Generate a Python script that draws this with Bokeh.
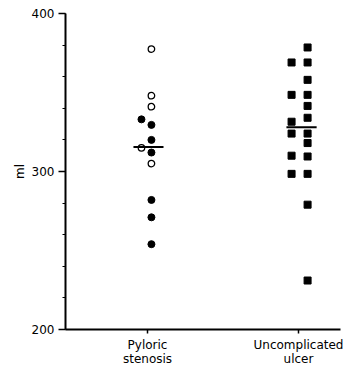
from bokeh.plotting import figure
from bokeh.models import Range1d, FixedTicker, SingleIntervalTicker, ColumnDataSource
from bokeh.embed import file_html
from bokeh.resources import INLINE

# ---- data (ml) ----
categories = ["Pyloric\nstenosis", "Uncomplicated\nulcer"]
cat_pos = [1, 2]

# Pyloric stenosis: filled and open circles
pyl_filled = [333, 329.5, 320, 312, 282, 271, 254]
pyl_filled_col = ["side", "main", "main", "main", "main", "main", "main"]
pyl_open = [377.5, 348, 341, 315, 305]
pyl_open_col = ["main", "main", "main", "side", "main"]
pyl_mean = 315.5

# Uncomplicated ulcer: filled squares
ulcer = [378.5, 369, 369, 358, 348.5, 348.5, 341.5, 334, 331.5, 324, 324,
         318, 310, 309.5, 298.5, 298.5, 279, 231]
ulcer_col = ["main", "side", "main", "main", "side", "main", "main", "main",
             "side", "side", "main", "main", "side", "main", "side", "main",
             "main", "main"]
ulcer_mean = 328

# column offsets (layout, x units)
pyl_off = {"main": 0.026, "side": -0.04}
ulc_off = {"main": 0.06, "side": -0.046}

FONT = "DejaVu Sans"

p = figure(width=351, height=368, output_backend="svg", toolbar_location=None,
           x_range=Range1d(0.457, 2.278), y_range=Range1d(200, 400),
           min_border_left=65, min_border_top=13, min_border_bottom=37,
           min_border_right=11)
p.outline_line_color = None
p.xgrid.grid_line_color = None
p.ygrid.grid_line_color = None
p.background_fill_color = "white"
p.border_fill_color = "white"

# y axis
ya = p.yaxis[0]
ya.ticker = SingleIntervalTicker(interval=100, num_minor_ticks=5)
ya.axis_line_width = 2
ya.axis_line_color = "black"
ya.major_tick_out = 7
ya.major_tick_in = 0
ya.major_tick_line_width = 1.5
ya.minor_tick_out = 3
ya.minor_tick_in = 0
ya.minor_tick_line_width = 1.2
ya.major_label_standoff = 4
ya.major_label_text_font = FONT
ya.major_label_text_font_size = "12px"
ya.major_label_text_color = "black"
ya.axis_label = "ml"
ya.axis_label_text_font = FONT
ya.axis_label_text_font_size = "12px"
ya.axis_label_text_font_style = "normal"
ya.axis_label_text_color = "black"
ya.axis_label_standoff = 2

# x axis
xa = p.xaxis[0]
xa.ticker = FixedTicker(ticks=cat_pos)
xa.major_label_overrides = {cat_pos[i]: categories[i] for i in range(2)}
xa.axis_line_width = 2
xa.axis_line_color = "black"
xa.major_tick_out = 4
xa.major_tick_in = 0
xa.major_tick_line_width = 1.5
xa.minor_tick_line_color = None
xa.major_label_standoff = 4
xa.major_label_text_font = FONT
xa.major_label_text_font_size = "12px"
xa.major_label_text_line_height = 1.0
xa.major_label_text_color = "black"

# points
pf = ColumnDataSource(dict(x=[cat_pos[0] + pyl_off[c] for c in pyl_filled_col], y=pyl_filled))
po = ColumnDataSource(dict(x=[cat_pos[0] + pyl_off[c] for c in pyl_open_col], y=pyl_open))
us = ColumnDataSource(dict(x=[cat_pos[1] + ulc_off[c] for c in ulcer_col], y=ulcer))

p.scatter("x", "y", source=pf, marker="circle", size=7, fill_color="black", line_color="black")
p.scatter("x", "y", source=po, marker="circle", size=6.5, fill_color="white",
          line_color="black", line_width=1.3)
p.scatter("x", "y", source=us, marker="square", size=7, fill_color="black", line_color="black")

# mean lines
p.segment(x0=[cat_pos[0] - 0.093, cat_pos[1] - 0.08], x1=[cat_pos[0] + 0.106, cat_pos[1] + 0.12],
          y0=[pyl_mean, ulcer_mean], y1=[pyl_mean, ulcer_mean],
          line_color="black", line_width=2)

open("out.html", "w").write(file_html(p, INLINE))
